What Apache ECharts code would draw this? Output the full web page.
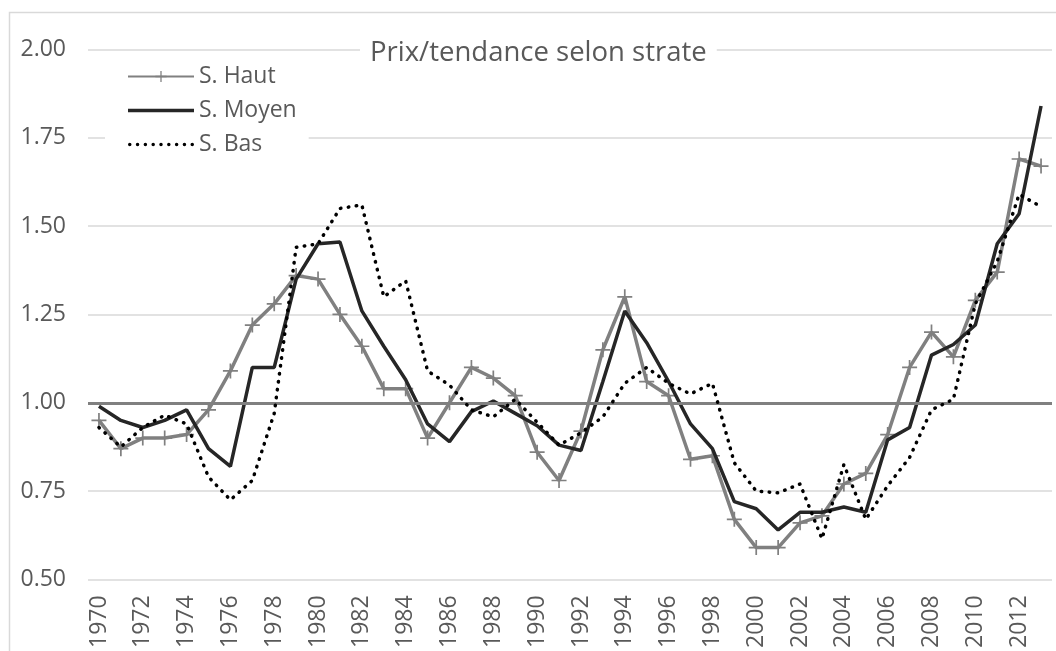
<!DOCTYPE html>
<html>
<head>
<meta charset="utf-8">
<script src="https://cdn.jsdelivr.net/npm/echarts@6/dist/echarts.min.js"></script>
<style>
  html, body { margin: 0; padding: 0; background: #fff; }
  #chart { width: 1056px; height: 651px; }
</style>
</head>
<body>
<div id="chart"></div>
<script>
// years on the x axis
const years = [];
for (let y = 1970; y <= 2013; y++) years.push(String(y));

// Prix/tendance par strate
const haut = [0.95, 0.87, 0.90, 0.90, 0.91, 0.98, 1.09, 1.22, 1.28, 1.36,
              1.35, 1.25, 1.16, 1.04, 1.04, 0.90, 1.00, 1.10, 1.07, 1.02,
              0.86, 0.78, 0.92, 1.15, 1.30, 1.06, 1.02, 0.84, 0.85, 0.67,
              0.59, 0.59, 0.66, 0.68, 0.77, 0.80, 0.91, 1.10, 1.20, 1.13,
              1.29, 1.37, 1.69, 1.67];
const moyen = [0.99, 0.95, 0.93, 0.95, 0.98, 0.87, 0.82, 1.10, 1.10, 1.35,
               1.45, 1.455, 1.26, 1.16, 1.065, 0.94, 0.89, 0.975, 1.005, 0.97,
               0.935, 0.88, 0.865, 1.06, 1.26, 1.17, 1.06, 0.94, 0.87, 0.72,
               0.70, 0.64, 0.69, 0.69, 0.705, 0.69, 0.895, 0.93, 1.135, 1.165,
               1.22, 1.45, 1.535, 1.84];
const bas = [0.93, 0.875, 0.93, 0.965, 0.94, 0.79, 0.725, 0.78, 0.97, 1.44,
             1.45, 1.55, 1.56, 1.30, 1.345, 1.09, 1.05, 0.98, 0.96, 1.01,
             0.945, 0.88, 0.915, 0.96, 1.055, 1.10, 1.055, 1.025, 1.055, 0.83,
             0.75, 0.745, 0.77, 0.615, 0.825, 0.67, 0.765, 0.845, 0.98, 1.01,
             1.28, 1.40, 1.59, 1.555];
const refLevel = 1.0;

const font = 'Open Sans';
const txt = '#595959';
const plus = 'path://M6.2,0 H7.8 V6.2 H14 V7.8 H7.8 V14 H6.2 V7.8 H0 V6.2 H6.2 Z';

// legend icons: plain bar for the solid line, row of dots for the dotted one
const solidIcon = 'path://M0,0 H66 V3.5 H0 Z';
let dots = '';
for (let i = 0; i < 9; i++) {
  const cx = 1.75 + i * 7.8;
  dots += 'M' + (cx - 1.75) + ',1.75 a1.75,1.75 0 1,0 3.5,0 a1.75,1.75 0 1,0 -3.5,0 ';
}
const dottedIcon = 'path://' + dots;

const chart = echarts.init(document.getElementById('chart'));
chart.setOption({
  animation: false,
  backgroundColor: '#fff',
  textStyle: { fontFamily: font },
  graphic: [{
    type: 'rect',
    shape: { x: 9.5, y: 12.5, width: 1100, height: 700 },
    style: { fill: 'none', stroke: '#d9d9d9', lineWidth: 1.5 },
    z: -1
  }],
  title: {
    text: 'Prix/tendance selon strate',
    left: 360,
    top: 37,
    backgroundColor: '#fff',
    padding: [2, 10],
    textStyle: { fontFamily: font, fontSize: 27.5, fontWeight: 'normal', color: txt }
  },
  legend: {
    orient: 'vertical',
    left: 105,
    top: 60,
    backgroundColor: '#fff',
    padding: [5, 12, 5, 22],
    itemWidth: 66,
    itemHeight: 14,
    itemGap: 11,
    textStyle: { fontFamily: font, fontSize: 23, color: txt },
    data: [
      { name: 'S. Haut' },
      { name: 'S. Moyen', icon: solidIcon },
      { name: 'S. Bas', icon: dottedIcon }
    ]
  },
  grid: { left: 88, right: 4, top: 49.5, bottom: 70.5 },
  xAxis: {
    type: 'category',
    data: years,
    boundaryGap: true,
    axisLine: { show: false },
    axisTick: { show: false },
    axisLabel: { rotate: 90, interval: 1, fontSize: 23, color: txt, margin: 16, fontFamily: font }
  },
  yAxis: {
    type: 'value',
    min: 0.5,
    max: 2,
    interval: 0.25,
    axisLine: { show: false },
    axisTick: { show: false },
    splitLine: { lineStyle: { color: '#d9d9d9', width: 1.5 } },
    axisLabel: { fontSize: 23, color: txt, margin: 22, fontFamily: font,
                 formatter: v => v.toFixed(2) }
  },
  series: [
    {
      name: 'S. Haut',
      type: 'line',
      data: haut,
      z: 3,
      symbol: plus,
      symbolSize: 15,
      showSymbol: true,
      showAllSymbol: true,
      itemStyle: { color: '#808080' },
      lineStyle: { color: '#808080', width: 3.5 },
      markLine: {
        silent: true,
        symbol: ['none', 'none'],
        label: { show: false },
        lineStyle: { color: '#808080', width: 3, type: 'solid' },
        data: [{ yAxis: refLevel }]
      }
    },
    {
      name: 'S. Moyen',
      type: 'line',
      data: moyen,
      z: 4,
      showSymbol: false,
      itemStyle: { color: '#262626' },
      lineStyle: { color: '#262626', width: 3.5 }
    },
    {
      name: 'S. Bas',
      type: 'line',
      data: bas,
      z: 5,
      showSymbol: false,
      itemStyle: { color: '#000' },
      lineStyle: { color: '#000', width: 3.5, type: [0.5, 7.5], cap: 'round' }
    }
  ]
});
</script>
</body>
</html>
